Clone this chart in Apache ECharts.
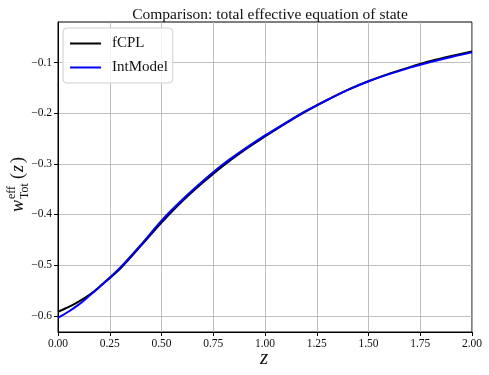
<!DOCTYPE html>
<html><head><meta charset="utf-8">
<script src="https://cdn.jsdelivr.net/npm/echarts@6/dist/echarts.min.js"></script>
<style>html,body{margin:0;padding:0;background:#fff}#c{width:489px;height:375px}</style>
</head><body><div id="c"></div>
<script>
const zFCPL = [0.0,0.05,0.1,0.15,0.2,0.3,0.4,0.5,0.6,0.7,0.8,0.9,1.0,1.1,1.2,1.3,1.4,1.5,1.6,1.7,1.8,1.9,2.0];
const wFCPL = [-0.592,-0.583,-0.572,-0.559,-0.543,-0.507,-0.462,-0.416,-0.374,-0.337,-0.303,-0.273,-0.246,-0.220,-0.196,-0.174,-0.154,-0.137,-0.122,-0.109,-0.097,-0.087,-0.078];
const zInt = [0.0,0.05,0.1,0.15,0.2,0.3,0.4,0.5,0.6,0.7,0.8,0.9,1.0,1.1,1.2,1.3,1.4,1.5,1.6,1.7,1.8,1.9,2.0];
const wInt = [-0.604,-0.592,-0.578,-0.561,-0.543,-0.505,-0.460,-0.412,-0.371,-0.334,-0.300,-0.271,-0.244,-0.219,-0.195,-0.174,-0.154,-0.137,-0.123,-0.110,-0.099,-0.089,-0.080];
const xTicks = [0,0.25,0.5,0.75,1.0,1.25,1.5,1.75,2.0];
const yTicks = [-0.6,-0.5,-0.4,-0.3,-0.2,-0.1];
const seriesNames = ['fCPL','IntModel'];
const titleText = 'Comparison: total effective equation of state';

const FONT = '"Liberation Serif", "DejaVu Serif", serif';
const chart = echarts.init(document.getElementById('c'), null, {renderer:'canvas'});
const pairs = (xs, ys) => xs.map((x,i)=>[x, ys[i]]);
chart.setOption({
  animation:false,
  backgroundColor:'#fff',
  title:{text:titleText, left:265, top:2, textAlign:'center',
    textStyle:{fontFamily:FONT, fontSize:15.5, fontWeight:'normal', color:'#111'}},
  legend:{orient:'vertical', left:63, top:28, data:seriesNames,
    icon:'rect', itemWidth:31, itemHeight:2, itemGap:9,
    backgroundColor:'rgba(255,255,255,0.8)', borderColor:'#d0d0d0', borderWidth:1, borderRadius:4,
    padding:[8,5,8,7],
    textStyle:{fontFamily:FONT, fontSize:15, color:'#111', padding:[0,0,0,6]}},
  grid:{left:58, right:17, top:22, bottom:43, show:true, borderColor:'#000', borderWidth:1},
  xAxis:{type:'value', min:0, max:2, interval:0.25,
    axisLine:{show:true, lineStyle:{color:'#000'}},
    axisTick:{show:true, length:4, customValues:xTicks, lineStyle:{color:'#000'}},
    axisLabel:{fontFamily:FONT, fontSize:11.5, color:'#111', margin:6, customValues:xTicks,
      formatter:v=>v.toFixed(2)},
    splitLine:{show:true, lineStyle:{color:'#b0b0b0', width:0.8}}},
  yAxis:{type:'value', min:-0.632, max:-0.02,
    axisLine:{show:true, lineStyle:{color:'#000'}},
    axisTick:{show:true, length:4, customValues:yTicks, lineStyle:{color:'#000'}},
    axisLabel:{fontFamily:FONT, fontSize:11.5, color:'#111', margin:6, customValues:yTicks,
      formatter:v=>(v<0?'\u2212':'')+Math.abs(v).toFixed(1)},
    splitLine:{show:true, lineStyle:{color:'#b0b0b0', width:0.8}}},
  series:[
    {name:seriesNames[0], type:'line', data:pairs(zFCPL,wFCPL), smooth:0.3, showSymbol:false,
      lineStyle:{color:'#000', width:2}, itemStyle:{color:'#000'}},
    {name:seriesNames[1], type:'line', data:pairs(zInt,wInt), smooth:0.3, showSymbol:false,
      lineStyle:{color:'#0000ff', width:2}, itemStyle:{color:'#0000ff'}}
  ],
  graphic:[
    {type:'text', left:260, top:348, style:{text:'z', fontFamily:FONT, fontStyle:'italic', fontSize:21, fill:'#111'}},
    {type:'group', x:27, y:212, rotation:Math.PI/2, children:[
      {type:'text', x:0, y:0, style:{text:'w', fontFamily:FONT, fontStyle:'italic', fontSize:18, fill:'#111', textVerticalAlign:'bottom'}},
      {type:'text', x:13, y:-9, style:{text:'eff', fontFamily:FONT, fontSize:12, fill:'#111', textVerticalAlign:'bottom'}},
      {type:'text', x:13, y:4, style:{text:'Tot', fontFamily:FONT, fontSize:12, fill:'#111', textVerticalAlign:'bottom'}},
      {type:'text', x:33, y:0, style:{text:'(', fontFamily:FONT, fontSize:18, fill:'#111', textVerticalAlign:'bottom'}},
      {type:'text', x:40, y:0, style:{text:'z', fontFamily:FONT, fontStyle:'italic', fontSize:18, fill:'#111', textVerticalAlign:'bottom'}},
      {type:'text', x:49, y:0, style:{text:')', fontFamily:FONT, fontSize:18, fill:'#111', textVerticalAlign:'bottom'}}
    ]}
  ]
});
</script></body></html>
